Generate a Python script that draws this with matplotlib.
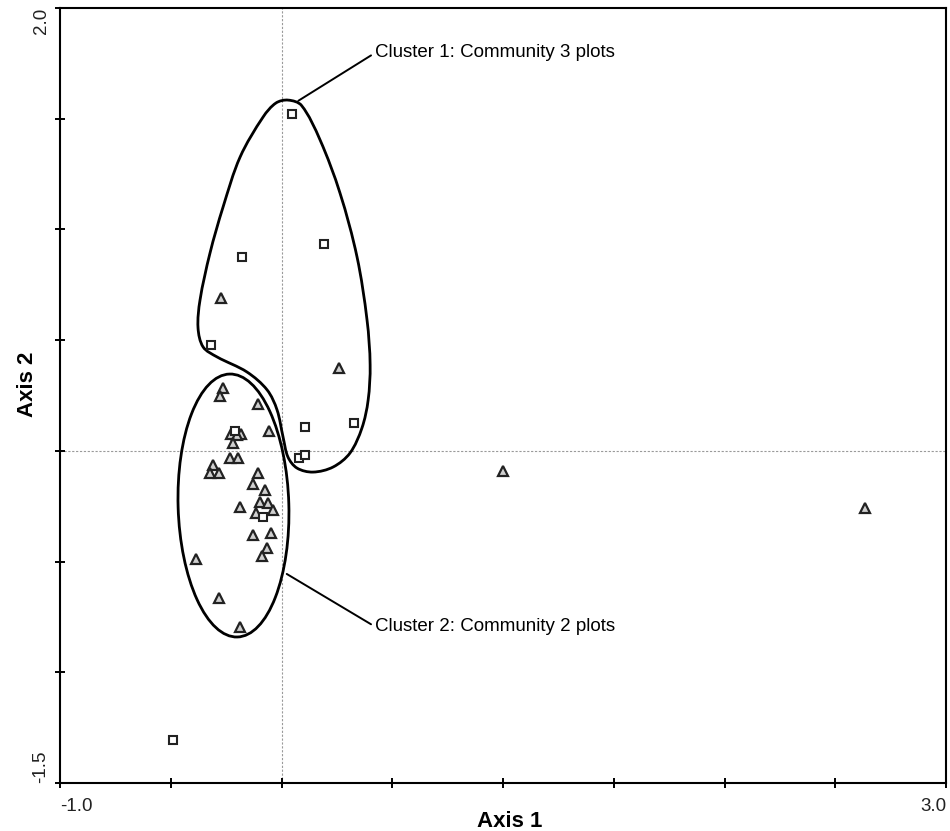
import numpy as np
import matplotlib
matplotlib.use('Agg')
import matplotlib.pyplot as plt
from matplotlib.path import Path
from matplotlib.patches import PathPatch, Ellipse

plt.rcParams['font.family'] = ['Liberation Sans', 'DejaVu Sans']

# Community 3 plots (open squares)
sq_x = [0.049, 0.192, -0.180, -0.320, 0.106, 0.327, 0.079, 0.106, -0.208, -0.082, -0.490]
sq_y = [1.521, 0.934, 0.874, 0.478, 0.109, 0.127, -0.034, -0.019, 0.089, -0.298, -1.306]

# Community 2 plots (triangles)
tri_x = [-0.263, -0.278, -0.105, -0.229, -0.181, -0.200, -0.055, -0.220, -0.233, -0.195,
         -0.311, -0.323, -0.282, -0.105, -0.127, -0.074, -0.097, -0.060, -0.037, -0.187,
         -0.116, -0.127, -0.049, -0.067, -0.089, -0.387, -0.282, -0.187, -0.272, 0.261,
         1.000, 2.634]
tri_y = [0.282, 0.249, 0.210, 0.077, 0.074, 0.072, 0.089, 0.034, -0.034, -0.034,
         -0.064, -0.102, -0.102, -0.100, -0.150, -0.177, -0.230, -0.234, -0.267, -0.255,
         -0.282, -0.380, -0.370, -0.440, -0.475, -0.487, -0.666, -0.794, 0.689, 0.373,
         -0.091, -0.258]

# outline around cluster 1 (closed, smoothed below)
hull1_x = [0.030, 0.090, 0.174, 0.264, 0.341, 0.386, 0.400, 0.391, 0.363,
           0.309, 0.233, 0.142, 0.070, 0.029, 0.007, -0.020, -0.065, -0.156, -0.291,
           -0.354, -0.377, -0.368, -0.323, -0.264, -0.187, -0.083, -0.025]
hull1_y = [1.584, 1.560, 1.404, 1.164, 0.875, 0.591, 0.388, 0.229, 0.103,
           -0.010, -0.073, -0.096, -0.078, -0.028, 0.062, 0.184, 0.275, 0.356, 0.424,
           0.469, 0.555, 0.681, 0.893, 1.101, 1.327, 1.508, 1.571]

# ellipse around cluster 2: centre, width, height, angle
hull2 = (-0.217, -0.247, 0.50, 1.188, 1.7)

x_ticks = [-1.0, -0.5, 0.0, 0.5, 1.0, 1.5, 2.0, 2.5, 3.0]
y_ticks = [-1.5, -1.0, -0.5, 0.0, 0.5, 1.0, 1.5, 2.0]


def smooth_closed_path(xs, ys):
    # closed spline through the points, as cubic bezier pieces
    pts = np.column_stack([xs, ys])
    n = len(pts)
    d = np.linalg.norm(np.roll(pts, -1, axis=0) - pts, axis=1)  # d[i] = |p[i+1]-p[i]|
    tang = []
    for i in range(n):
        m = (pts[(i + 1) % n] - pts[i - 1]) / (d[i - 1] + d[i])
        tang.append(m)
    verts = [pts[0]]
    codes = [Path.MOVETO]
    for i in range(n):
        j = (i + 1) % n
        verts += [pts[i] + tang[i] * d[i] / 3, pts[j] - tang[j] * d[i] / 3, pts[j]]
        codes += [Path.CURVE4] * 3
    return Path(verts, codes)


fig = plt.figure(figsize=(9.5, 8.31), dpi=100)
ax = fig.add_axes([0.0632, 0.0578, 0.9326, 0.9326])

ax.set_xlim(-1.0, 3.0)
ax.set_ylim(-1.5, 2.0)

# zero reference lines
ax.axvline(0, color='#9a9a9a', lw=0.8, ls=(0, (2, 1.5)), zorder=1)
ax.axhline(0, color='#9a9a9a', lw=0.8, ls=(0, (2, 1.5)), zorder=1)

# cluster outlines
ax.add_patch(PathPatch(smooth_closed_path(hull1_x, hull1_y), fill=False,
                       edgecolor='black', lw=2.0, zorder=2))
cx, cy, w, h, ang = hull2
ax.add_patch(Ellipse((cx, cy), w, h, angle=ang, fill=False,
                     edgecolor='black', lw=2.0, zorder=2))

ax.plot(tri_x, tri_y, ls='none', marker='^', ms=6.5, mfc='#cfcfcf',
        mec='#222222', mew=1.6, zorder=3)
ax.plot(sq_x, sq_y, ls='none', marker='s', ms=5.5, mfc='white',
        mec='#222222', mew=1.5, zorder=4)

# cluster labels with leader lines
ax.annotate('Cluster 1: Community 3 plots', xy=(0.076, 1.581), xytext=(0.422, 1.797),
            ha='left', va='center', fontsize=13.5,
            arrowprops=dict(arrowstyle='-', lw=1.4, color='black',
                            relpos=(0, 0.5), shrinkA=1, shrinkB=0))
ax.annotate('Cluster 2: Community 2 plots', xy=(0.0235, -0.556), xytext=(0.422, -0.794),
            ha='left', va='center', fontsize=13.5,
            arrowprops=dict(arrowstyle='-', lw=1.4, color='black',
                            relpos=(0, 0.5), shrinkA=1, shrinkB=0))

# ticks: only end labels shown
ax.set_xticks(x_ticks)
ax.set_xticklabels(['-1.0'] + [''] * 7 + ['3.0'])
ax.set_yticks(y_ticks)
ax.set_yticklabels(['-1.5'] + [''] * 6 + ['2.0'], rotation=90)
ax.tick_params(direction='inout', length=7, width=1.4, color='black',
               labelsize=13.5, labelcolor='#222222')
ax.tick_params(axis='x', pad=7)
ax.tick_params(axis='y', pad=4)
xl = ax.get_xticklabels()
xl[0].set_ha('left')
xl[-1].set_ha('right')
yl = ax.get_yticklabels()
yl[0].set_va('bottom')
yl[-1].set_va('top')

for s in ax.spines.values():
    s.set_linewidth(1.5)

ax.set_xlabel('Axis 1', fontsize=16, fontweight='bold', va='center')
ax.xaxis.set_label_coords(0.507, -0.050)
ax.set_ylabel('Axis 2', fontsize=16, fontweight='bold', va='center')
ax.yaxis.set_label_coords(-0.037, 0.515)

fig.savefig('out.png', dpi=100)
